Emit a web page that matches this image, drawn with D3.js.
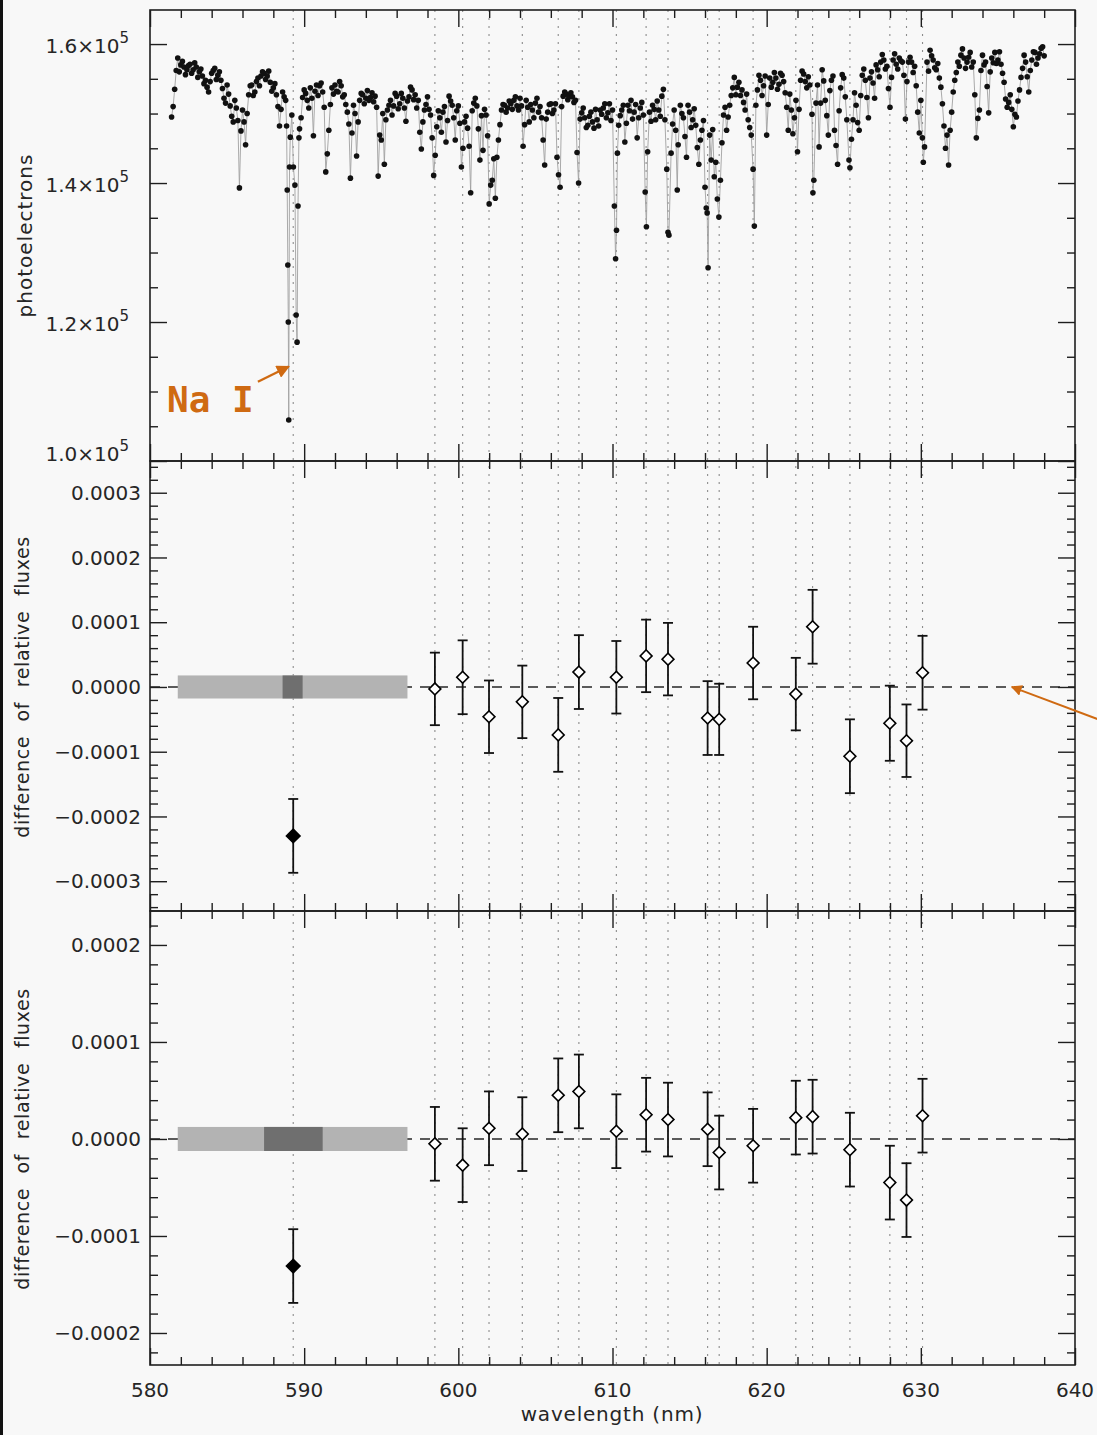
<!DOCTYPE html>
<html>
<head>
<meta charset="utf-8">
<script src="https://cdn.jsdelivr.net/npm/d3@7"></script>
<style>
  html, body { margin: 0; padding: 0; background: #f8f8f8; }
  svg { display: block; }
  text { font-family: "DejaVu Sans", sans-serif; fill: #262626; }
</style>
</head>
<body>
<svg id="fig" width="1097" height="1435"></svg>
<script>
// ---------- data ----------
// observed spectrum: [wavelength (nm), photoelectrons / 1000]
const spectrum = [
  [581.4,149.5],[581.6,153.5],[581.8,158.0],[582.0,157.0],[582.2,156.7],[582.4,156.3],[582.6,157.1],[582.8,156.3],[583.0,156.7],[583.2,156.0],
  [583.4,155.4],[583.6,154.8],[583.8,153.1],[584.0,155.8],[584.2,156.5],[584.4,155.5],[584.6,154.8],[584.8,152.2],[585.0,154.1],[585.2,151.1],
  [585.4,148.8],[585.6,150.8],[585.8,139.3],[586.0,150.5],[586.2,145.5],[586.4,152.7],[586.6,154.1],[586.8,153.1],[587.0,155.1],[587.2,155.4],
  [587.4,155.8],[587.6,155.4],[587.8,154.5],[588.0,153.7],[588.2,152.7],[588.4,148.2],[588.6,153.1],[588.8,151.9],[588.86,148.2],[588.9,139.0],
  [588.94,128.2],[588.97,120.0],[589.0,105.9],[589.05,142.3],[589.1,146.6],[589.2,149.8],[589.3,142.3],[589.4,139.7],[589.48,121.0],[589.54,117.1],
  [589.6,136.7],[589.66,146.5],[589.8,149.4],[590.0,153.4],[590.2,151.9],[590.4,153.7],[590.6,146.8],[590.8,154.1],[591.0,154.0],[591.2,153.1],
  [591.4,141.6],[591.6,147.6],[591.8,153.7],[592.0,154.1],[592.2,153.1],[592.4,154.0],[592.6,152.7],[592.8,150.2],[593.0,140.7],[593.2,151.2],
  [593.4,143.9],[593.6,151.9],[593.8,152.7],[594.0,152.2],[594.2,151.9],[594.4,153.0],[594.6,152.5],[594.8,141.0],[595.0,146.2],[595.2,142.7],
  [595.4,150.5],[595.6,151.9],[595.8,151.1],[596.0,152.5],[596.2,151.4],[596.4,152.2],[596.6,148.9],[596.8,152.4],[597.0,153.4],[597.2,152.7],
  [597.4,151.9],[597.6,144.9],[597.8,150.5],[598.0,152.4],[598.2,149.8],[598.4,141.1],[598.6,148.1],[598.8,149.4],[599.0,150.2],[599.2,145.9],
  [599.4,152.5],[599.6,151.2],[599.8,146.2],[600.0,151.1],[600.2,142.3],[600.4,148.8],[600.6,147.9],[600.8,138.6],[601.0,151.5],[601.2,151.1],
  [601.4,143.3],[601.6,144.7],[601.8,149.8],[602.0,137.0],[602.2,140.4],[602.4,137.8],[602.6,146.2],[602.8,150.5],[603.0,151.2],[603.2,150.8],
  [603.4,151.4],[603.6,151.9],[603.8,151.1],[604.0,152.2],[604.2,145.3],[604.4,151.9],[604.6,148.8],[604.8,150.5],[605.0,151.5],[605.2,150.2],
  [605.4,149.4],[605.6,142.6],[605.8,150.2],[606.0,151.4],[606.2,150.5],[606.4,143.7],[606.6,139.4],[606.8,152.5],[607.0,152.8],[607.2,152.5],
  [607.4,152.4],[607.6,151.9],[607.8,140.0],[608.0,150.1],[608.2,149.4],[608.4,148.3],[608.6,150.2],[608.8,147.9],[609.0,149.1],[609.2,150.5],
  [609.4,150.8],[609.6,149.4],[609.8,151.4],[610.0,150.5],[610.12,136.7],[610.2,129.1],[610.26,133.2],[610.32,144.3],[610.4,148.3],[610.6,150.5],
  [610.8,145.9],[611.0,151.2],[611.2,151.9],[611.4,150.2],[611.6,146.5],[611.8,150.8],[612.0,149.8],[612.12,138.7],[612.2,133.7],[612.28,144.5],
  [612.4,150.2],[612.6,151.2],[612.8,149.1],[613.0,150.5],[613.2,152.5],[613.4,149.1],[613.52,142.0],[613.6,132.9],[613.66,132.5],[613.8,144.3],
  [614.0,150.5],[614.2,139.0],[614.26,145.5],[614.4,151.2],[614.6,149.4],[614.8,143.7],[615.0,150.2],[615.2,149.1],[615.4,148.3],[615.6,142.7],
  [615.8,147.6],[616.0,139.4],[616.08,136.4],[616.14,135.7],[616.2,127.8],[616.4,143.3],[616.6,140.9],[616.8,137.7],[616.9,135.1],[617.0,140.4],
  [617.2,149.8],[617.4,147.6],[617.6,151.2],[617.8,153.7],[618.0,152.7],[618.2,154.5],[618.4,153.4],[618.6,150.5],[618.8,149.1],[619.0,146.9],
  [619.12,142.0],[619.2,133.8],[619.4,153.4],[619.6,154.8],[619.8,154.0],[620.0,146.9],[620.2,155.1],[620.4,154.5],[620.6,155.1],[620.8,154.2],
  [621.0,155.5],[621.2,153.0],[621.4,147.6],[621.6,150.5],[621.8,149.4],[622.0,144.5],[622.2,154.8],[622.4,155.7],[622.6,153.7],[622.8,154.1],
  [622.94,149.9],[623.0,138.6],[623.06,140.4],[623.2,151.5],[623.4,145.2],[623.6,156.3],[623.8,151.9],[624.0,146.9],[624.2,154.8],[624.4,147.6],
  [624.6,142.7],[624.8,153.7],[625.0,155.1],[625.2,149.1],[625.34,143.3],[625.4,142.2],[625.6,149.1],[625.8,151.2],[626.0,147.6],[626.2,155.5],
  [626.4,154.8],[626.6,149.4],[626.8,156.0],[627.0,152.2],[627.2,156.3],[627.4,157.4],[627.6,157.7],[627.8,156.8],[628.0,150.9],[628.2,157.7],
  [628.4,157.1],[628.6,158.0],[628.8,157.4],[629.0,149.2],[629.2,157.4],[629.4,157.4],[629.6,156.8],[629.8,150.2],[630.0,151.9],[630.1,146.5],
  [630.16,143.0],[630.24,145.2],[630.4,157.4],[630.6,159.1],[630.8,157.7],[631.0,156.3],[631.2,155.1],[631.4,151.4],[631.6,145.0],[631.8,142.6],
  [632.0,150.2],[632.2,154.8],[632.4,157.4],[632.6,158.4],[632.8,158.0],[633.0,157.4],[633.2,158.8],[633.4,157.4],[633.5,152.7],[633.6,146.5],
  [633.8,150.5],[634.0,158.4],[634.2,157.4],[634.4,150.1],[634.6,158.0],[634.8,158.8],[635.0,157.7],[635.2,157.1],[635.4,154.5],[635.6,150.9],
  [635.8,152.7],[636.0,148.1],[636.2,149.5],[636.4,153.4],[636.6,156.5],[636.8,157.4],[637.0,153.1],[637.2,157.7],[637.4,158.8],[637.6,158.0],
  [637.8,159.4],[638.0,158.3]
];
// further spectrum samples lying between the ones above
const spectrumBetween = [
  [581.5,151.0],[581.7,156.2],[581.9,156.0],[582.1,157.5],[582.3,155.6],[582.5,156.9],[582.7,155.8],[582.9,157.3],[583.1,155.2],[583.3,156.4],
  [583.5,154.3],[583.7,153.8],[583.9,154.6],[584.1,156.2],[584.3,154.9],[584.5,156.0],[584.7,153.6],[584.9,151.5],[585.1,152.8],[585.3,149.6],
  [585.5,151.9],[585.7,149.0],[585.9,147.5],[586.1,148.8],[586.3,150.0],[586.5,154.0],[586.7,152.6],[586.9,154.6],[587.1,154.0],[587.3,156.0],
  [587.5,154.9],[587.7,156.1],[587.9,153.2],[588.1,154.3],[588.3,151.0],[588.5,150.6],[588.7,152.4],
  [589.7,147.8],[589.9,152.3],[590.1,152.9],[590.3,150.8],[590.5,152.2],[590.7,153.2],[590.9,152.6],[591.1,154.4],[591.3,150.9],
  [591.5,144.2],[591.7,151.3],[591.9,152.8],[592.1,153.2],[592.3,154.6],[592.5,152.4],[592.7,151.3],[592.9,148.5],[593.1,147.2],[593.3,150.0],
  [593.5,148.8],[593.7,152.9],[593.9,151.4],[594.1,153.3],[594.3,152.3],[594.5,151.7],[594.7,150.9],[594.9,146.9],[595.1,150.0],[595.3,149.1],
  [595.5,151.2],[595.7,149.8],[595.9,152.9],[596.1,150.7],[596.3,152.9],[596.5,150.8],[596.7,151.8],[596.9,153.8],[597.1,152.0],[597.3,150.8],
  [597.5,147.3],[597.7,148.8],[597.9,151.3],[598.1,150.6],[598.3,146.5],[598.5,144.0],[598.7,150.4],[598.9,147.3],[599.1,151.0],[599.3,149.0],
  [599.5,151.8],[599.7,149.4],[599.9,150.4],[600.1,148.6],[600.3,145.0],[600.5,149.6],[600.7,145.3],[600.9,150.4],[601.1,152.2],[601.3,147.8],
  [601.5,149.7],[601.7,150.6],[601.9,146.8],[602.1,139.7],[602.3,143.5],[602.5,143.7],[602.7,148.4],[602.9,151.3],[603.1,150.2],[603.3,151.8],
  [603.5,150.6],[603.7,152.4],[603.9,150.5],[604.1,151.1],[604.3,148.4],[604.5,150.9],[604.7,151.3],[604.9,149.4],[605.1,152.2],[605.3,151.0],
  [605.5,146.2],[605.7,149.2],[605.9,151.3],[606.1,150.0],[606.3,151.4],[606.5,141.2],[606.7,151.0],[606.9,153.1],[607.1,152.0],[607.3,153.0],
  [607.5,151.6],[607.7,144.4],[607.9,149.2],[608.1,150.8],[608.3,148.0],[608.5,149.6],[608.7,148.8],[608.9,150.6],[609.1,148.2],[609.3,149.9],
  [609.5,151.4],[609.7,150.1],[609.9,149.0],[610.5,149.7],[610.7,151.2],[610.9,148.6],[611.1,150.4],[611.3,149.2],[611.5,151.3],[611.7,149.4],
  [611.9,151.6],[612.5,148.9],[612.7,150.6],[612.9,151.8],[613.1,149.6],[613.3,153.5],[613.9,148.5],[614.1,147.6],[614.5,150.0],[614.7,146.7],
  [614.9,151.2],[615.1,148.0],[615.3,150.7],[615.5,145.1],[615.7,146.2],[615.9,149.0],[616.3,146.9],[616.5,147.7],[616.7,143.0],[617.1,145.8],
  [617.3,150.9],[617.5,149.5],[617.7,152.6],[617.9,155.2],[618.1,153.8],[618.3,152.6],[618.5,151.6],[618.7,152.8],[618.9,148.0],[619.3,151.2],
  [619.5,155.5],[619.7,152.6],[619.9,155.4],[620.1,151.3],[620.3,153.8],[620.5,155.9],[620.7,153.5],[620.9,155.8],[621.1,154.6],[621.3,150.9],
  [621.5,152.8],[621.7,147.1],[621.9,151.9],[622.1,150.6],[622.3,156.1],[622.5,154.6],[622.7,155.3],[623.3,154.1],[623.5,151.5],[623.7,154.7],
  [623.9,149.7],[624.1,153.3],[624.3,155.4],[624.5,145.4],[624.7,150.4],[624.9,155.6],[625.1,152.4],[625.5,146.3],[625.7,153.0],[625.9,148.7],
  [626.1,152.6],[626.3,156.4],[626.5,152.3],[626.7,155.1],[626.9,154.4],[627.1,157.0],[627.3,155.3],[627.5,158.5],[627.7,156.4],[627.9,153.6],
  [628.1,155.2],[628.3,158.6],[628.5,156.4],[628.7,157.6],[628.9,155.5],[629.1,154.6],[629.3,158.1],[629.5,155.9],[629.7,154.0],[629.9,147.2],
  [630.5,156.1],[630.7,158.3],[630.9,156.6],[631.1,157.2],[631.3,153.8],[631.5,148.2],[631.7,146.9],[631.9,147.6],[632.1,153.1],[632.3,155.9],
  [632.5,156.8],[632.7,159.3],[632.9,156.5],[633.1,158.1],[633.3,156.7],[633.7,149.3],[633.9,156.2],[634.1,157.0],[634.3,153.9],[634.5,156.0],
  [634.7,157.3],[634.9,157.2],[635.1,158.9],[635.3,155.8],[635.5,152.1],[635.7,151.6],[635.9,150.6],[636.1,149.9],[636.3,151.8],[636.5,155.2],
  [636.7,158.4],[636.9,155.3],[637.1,156.2],[637.3,158.9],[637.5,157.1],[637.7,158.6],[637.9,159.6]
];
const SPEC_UNIT = 1000;

// Na I doublet position and the comparison lines (nm)
const naWavelength = 589.29;
const lineWavelengths = [598.48, 600.28, 601.99, 604.15, 606.48, 607.82, 610.25, 612.18, 613.60,
                         616.17, 616.92, 619.12, 621.89, 622.98, 625.40, 627.99, 629.07, 630.11];

// difference of relative fluxes, in units of 1e-4
const FLUX_UNIT = 1e-4;
const diffMiddle = [-0.03, 0.15, -0.46, -0.23, -0.74, 0.23, 0.15, 0.48, 0.43,
                    -0.48, -0.50, 0.37, -0.11, 0.93, -1.07, -0.56, -0.83, 0.22];
const errMiddle  = [0.56, 0.57, 0.56, 0.56, 0.57, 0.57, 0.56, 0.56, 0.56,
                    0.57, 0.55, 0.56, 0.56, 0.57, 0.57, 0.58, 0.56, 0.57];
const naMiddle = { value: -2.30, err: 0.57 };

const diffBottom = [-0.05, -0.27, 0.11, 0.05, 0.45, 0.49, 0.08, 0.25, 0.20,
                    0.10, -0.14, -0.07, 0.22, 0.23, -0.11, -0.45, -0.63, 0.24];
const errBottom  = [0.38, 0.38, 0.38, 0.38, 0.38, 0.38, 0.38, 0.38, 0.38,
                    0.38, 0.38, 0.38, 0.38, 0.38, 0.38, 0.38, 0.38, 0.38];
const naBottom = { value: -1.31, err: 0.38 };

// shaded scatter band: wavelength span, half height (1e-4), darker core span
const bandMiddle = { span: [581.8, 596.7], half: 0.178, core: [588.6, 589.9] };
const bandBottom = { span: [581.8, 596.7], half: 0.124, core: [587.4, 591.2] };

// tick labels
const xTickValues = [580, 590, 600, 610, 620, 630, 640];
const xTickLabels = ["580", "590", "600", "610", "620", "630", "640"];
const specTickValues = [100000, 120000, 140000, 160000];
const specTickLabels = ["1.0", "1.2", "1.4", "1.6"];
const midTickValues = [-3, -2, -1, 0, 1, 2, 3];
const midTickLabels = ["\u22120.0003", "\u22120.0002", "\u22120.0001", "0.0000", "0.0001", "0.0002", "0.0003"];
const lowTickValues = [-2, -1, 0, 1, 2];
const lowTickLabels = ["\u22120.0002", "\u22120.0001", "0.0000", "0.0001", "0.0002"];

// ---------- layout ----------
const svg = d3.select("#fig");
const L = 150, R = 1075;
const P1 = { top: 10, bottom: 461 };
const P2 = { top: 461, bottom: 911 };
const P3 = { top: 911, bottom: 1365 };
const ORANGE = "#cf6a12";
const INK = "#1e1e1e";

const x = d3.scaleLinear().domain([580, 640]).range([L, R]);
const y1 = d3.scaleLinear().domain([100000, 164900]).range([P1.bottom, P1.top]);
const y2 = d3.scaleLinear().domain([-3.46e-4, 3.49e-4]).range([P2.bottom, P2.top]);
const y3 = d3.scaleLinear().domain([-2.33e-4, 2.35e-4]).range([P3.bottom, P3.top]);

svg.append("rect").attr("width", 1097).attr("height", 1435).attr("fill", "#f8f8f8");
svg.append("rect").attr("x", 0).attr("y", 0).attr("width", 3).attr("height", 1435).attr("fill", "#111");

const defs = svg.append("defs");
defs.append("marker").attr("id", "ahead").attr("viewBox", "0 0 10 10")
  .attr("refX", 9).attr("refY", 5).attr("markerWidth", 5.5).attr("markerHeight", 5.5)
  .attr("orient", "auto").attr("markerUnits", "strokeWidth")
  .append("path").attr("d", "M0,0 L10,5 L0,10 Z").attr("fill", ORANGE);
[P1, P2, P3].forEach((p, i) => {
  defs.append("clipPath").attr("id", "clip" + i)
    .append("rect").attr("x", L).attr("y", p.top).attr("width", R - L).attr("height", p.bottom - p.top);
});

// dotted guide lines through all panels
const guides = svg.append("g");
[naWavelength, ...lineWavelengths].forEach(w => {
  guides.append("line")
    .attr("x1", x(w)).attr("x2", x(w)).attr("y1", P1.top).attr("y2", P3.bottom)
    .attr("stroke", "#8c8c8c").attr("stroke-width", 1.1).attr("stroke-dasharray", "2,6");
});

// ---------- panel 1: spectrum ----------
const specAll = spectrum.concat(spectrumBetween).sort((a, b) => a[0] - b[0]);
const specG = svg.append("g").attr("clip-path", "url(#clip0)");
specG.append("path")
  .datum(specAll)
  .attr("fill", "none").attr("stroke", "#a0a0a0").attr("stroke-width", 0.9)
  .attr("d", d3.line().x(d => x(d[0])).y(d => y1(d[1] * SPEC_UNIT)));
specG.selectAll("circle").data(specAll).join("circle")
  .attr("cx", d => x(d[0])).attr("cy", d => y1(d[1] * SPEC_UNIT))
  .attr("r", 2.8).attr("fill", "#111");

// Na I annotation
svg.append("line")
  .attr("x1", x(587.0)).attr("y1", y1(111400))
  .attr("x2", x(589.0)).attr("y2", y1(113600))
  .attr("stroke", ORANGE).attr("stroke-width", 2.4).attr("marker-end", "url(#ahead)");
svg.append("text")
  .attr("x", 167).attr("y", 412)
  .style("font-family", "'DejaVu Sans Mono', monospace").style("font-weight", "bold")
  .style("font-size", "36px").style("fill", ORANGE)
  .text("Na I");

// ---------- panels 2 and 3: flux differences ----------
function diffPanel(yS, clipId, values, errs, na, band) {
  const g = svg.append("g").attr("clip-path", `url(#${clipId})`);
  // zero reference
  g.append("line")
    .attr("x1", x(580)).attr("x2", x(640)).attr("y1", yS(0)).attr("y2", yS(0))
    .attr("stroke", "#262626").attr("stroke-width", 1.5).attr("stroke-dasharray", "10,8");
  // scatter band
  g.append("rect")
    .attr("x", x(band.span[0])).attr("width", x(band.span[1]) - x(band.span[0]))
    .attr("y", yS(band.half * FLUX_UNIT)).attr("height", yS(-band.half * FLUX_UNIT) - yS(band.half * FLUX_UNIT))
    .attr("fill", "#b3b3b3");
  g.append("rect")
    .attr("x", x(band.core[0])).attr("width", x(band.core[1]) - x(band.core[0]))
    .attr("y", yS(band.half * FLUX_UNIT)).attr("height", yS(-band.half * FLUX_UNIT) - yS(band.half * FLUX_UNIT))
    .attr("fill", "#6f6f6f");

  const pts = lineWavelengths.map((w, i) => ({ w, v: values[i], e: errs[i], filled: false }));
  pts.push({ w: naWavelength, v: na.value, e: na.err, filled: true });

  const eb = g.append("g").attr("stroke", "#111").attr("stroke-width", 1.8);
  pts.forEach(p => {
    const cx = x(p.w), top = yS((p.v + p.e) * FLUX_UNIT), bot = yS((p.v - p.e) * FLUX_UNIT);
    eb.append("line").attr("x1", cx).attr("x2", cx).attr("y1", top).attr("y2", bot);
    eb.append("line").attr("x1", cx - 5).attr("x2", cx + 5).attr("y1", top).attr("y2", top);
    eb.append("line").attr("x1", cx - 5).attr("x2", cx + 5).attr("y1", bot).attr("y2", bot);
  });
  g.selectAll("path.mk").data(pts).join("path").attr("class", "mk")
    .attr("transform", d => `translate(${x(d.w)},${yS(d.v * FLUX_UNIT)}) rotate(45)`)
    .attr("d", d => d3.symbol(d3.symbolSquare, d.filled ? 92 : 70)())
    .attr("fill", d => d.filled ? "#000" : "#fff")
    .attr("stroke", "#000").attr("stroke-width", 1.6);
}
diffPanel(y2, "clip1", diffMiddle, errMiddle, naMiddle, bandMiddle);
diffPanel(y3, "clip2", diffBottom, errBottom, naBottom, bandBottom);

// ---------- axes and frames ----------
function styleAxis(sel) {
  sel.select(".domain").remove();
  sel.selectAll("line").attr("stroke", INK).attr("stroke-width", 1.4);
}
function frame(p, yS, yMajor, yMinor) {
  const g = svg.append("g");
  const xMinor = d3.range(582, 640, 2).filter(v => v % 10 !== 0);
  const mk = [
    [() => d3.axisBottom(x), `translate(0,${p.bottom})`, xTickValues, xMinor],
    [() => d3.axisTop(x), `translate(0,${p.top})`, xTickValues, xMinor],
    [() => d3.axisLeft(yS), `translate(${L},0)`, yMajor, yMinor],
    [() => d3.axisRight(yS), `translate(${R},0)`, yMajor, yMinor]
  ];
  mk.forEach(([make, tr, major, minor]) => {
    g.append("g").attr("transform", tr)
      .call(make().tickValues(major).tickSize(-17).tickFormat(""))
      .call(styleAxis);
    g.append("g").attr("transform", tr)
      .call(make().tickValues(minor).tickSize(-8).tickFormat(""))
      .call(styleAxis);
  });
  g.append("rect").attr("x", L).attr("y", p.top).attr("width", R - L).attr("height", p.bottom - p.top)
    .attr("fill", "none").attr("stroke", INK).attr("stroke-width", 1.6);
}
frame(P1, y1, specTickValues, d3.range(105000, 164000, 5000).filter(v => v % 20000 !== 0));
frame(P2, y2, midTickValues.map(v => v * FLUX_UNIT),
      d3.range(-34, 35, 2).filter(v => v % 10 !== 0).map(v => v * 1e-5));
frame(P3, y3, lowTickValues.map(v => v * FLUX_UNIT),
      d3.range(-22, 23, 2).filter(v => v % 10 !== 0).map(v => v * 1e-5));

// tick labels
const lab = svg.append("g").style("font-size", "20px");
xTickValues.forEach((v, i) => {
  lab.append("text").attr("x", x(v)).attr("y", 1397).attr("text-anchor", "middle").text(xTickLabels[i]);
});
specTickValues.forEach((v, i) => {
  const base = i === 0 ? y1(v) : y1(v) + 9;
  const t = lab.append("text").attr("x", 129).attr("y", base).attr("text-anchor", "end");
  t.append("tspan").text(specTickLabels[i] + "\u00d710");
  t.append("tspan").attr("dy", -10).style("font-size", "15px").text("5");
});
midTickValues.forEach((v, i) => {
  lab.append("text").attr("x", 141).attr("y", y2(v * FLUX_UNIT)).attr("dy", "0.36em")
    .attr("text-anchor", "end").text(midTickLabels[i]);
});
lowTickValues.forEach((v, i) => {
  lab.append("text").attr("x", 141).attr("y", y3(v * FLUX_UNIT)).attr("dy", "0.36em")
    .attr("text-anchor", "end").text(lowTickLabels[i]);
});

// axis titles
svg.append("text").attr("x", 612).attr("y", 1421).attr("text-anchor", "middle")
  .style("font-size", "20px").style("letter-spacing", "0.8px").text("wavelength (nm)");
svg.append("text").attr("transform", `translate(32,${(P1.top + P1.bottom) / 2}) rotate(-90)`)
  .attr("text-anchor", "middle").style("font-size", "20px").style("letter-spacing", "1px")
  .text("photoelectrons");
[[P2, y2], [P3, y3]].forEach(([p, yS]) => {
  svg.append("text").attr("transform", `translate(29,${yS(0)}) rotate(-90)`)
    .attr("text-anchor", "middle").style("font-size", "19px")
    .style("letter-spacing", "0.6px").style("word-spacing", "8px")
    .text("difference of relative fluxes");
});

// arrow pointing at the zero level from the right edge
svg.append("line")
  .attr("x1", 1100).attr("y1", y2(-0.51 * FLUX_UNIT))
  .attr("x2", x(635.9)).attr("y2", y2(0))
  .attr("stroke", ORANGE).attr("stroke-width", 2).attr("marker-end", "url(#ahead)");
</script>
</body>
</html>
